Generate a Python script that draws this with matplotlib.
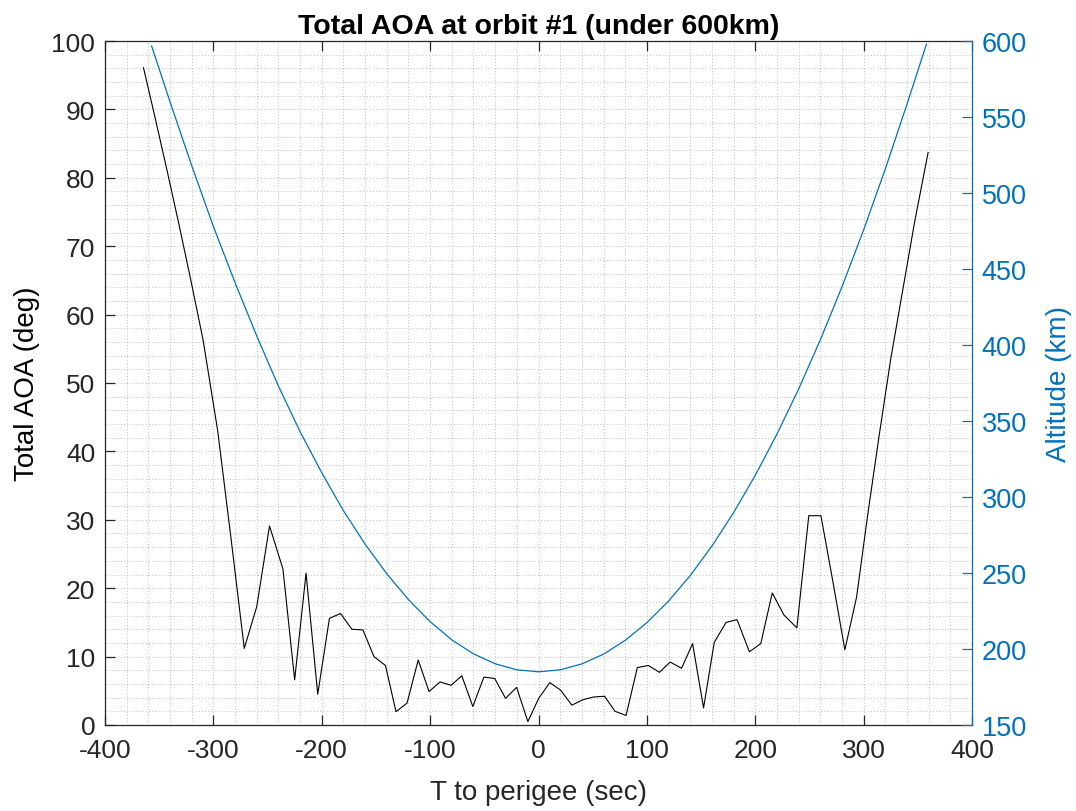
import numpy as np
import matplotlib
matplotlib.use("Agg")
import matplotlib.pyplot as plt
from matplotlib.ticker import MultipleLocator

plt.rcParams['font.family'] = ['Liberation Sans', 'DejaVu Sans']
plt.rcParams['axes.unicode_minus'] = False

# total angle of attack samples (time to perigee in sec, AOA in deg)
aoa_time = [-364.5, -353.5, -342.5, -331.5, -320.5, -309.5, -296.0, -283.5,
            -271.5, -260.0, -248.2, -235.8, -225.0, -214.5, -203.7, -192.9,
            -182.7, -172.2, -162.0, -151.8, -141.2, -131.5, -121.3, -111.0,
            -101.0, -90.8, -80.6, -70.8, -60.6, -50.4, -40.4, -30.4,
            -20.2, -9.8, 0.2, 10.4, 20.4, 30.8, 41.0, 51.0,
            61.0, 70.6, 80.8, 91.2, 101.4, 111.6, 121.5, 132.0,
            142.2, 152.3, 162.2, 173.1, 183.2, 194.6, 205.1, 215.7,
            226.4, 238.4, 249.4, 260.6, 271.6, 282.7, 293.5, 304.0,
            314.5, 325.0, 336.0, 347.0, 359.5]
aoa_deg = [96.1, 88.6, 80.9, 73.0, 64.8, 56.3, 43.0, 27.0,
           11.2, 17.3, 29.1, 22.8, 6.6, 22.2, 4.5, 15.6,
           16.3, 14.0, 13.9, 10.0, 8.7, 1.95, 3.2, 9.5,
           4.9, 6.3, 5.8, 7.2, 2.7, 7.0, 6.8, 3.9,
           5.5, 0.5, 3.9, 6.2, 5.1, 2.9, 3.7, 4.1,
           4.2, 2.0, 1.4, 8.4, 8.7, 7.7, 9.2, 8.3,
           11.9, 2.5, 12.1, 15.0, 15.4, 10.7, 11.9, 19.3,
           16.1, 14.2, 30.6, 30.6, 21.0, 11.0, 18.7, 31.0,
           42.5, 53.5, 63.5, 73.5, 83.7]

# altitude profile (km)
alt_time = [-357, -340, -320, -300, -280, -260, -240, -220, -200, -180,
            -160, -140, -120, -100, -80, -60, -40, -20, 0,
            20, 40, 60, 80, 100, 120, 140, 160, 180, 200,
            220, 240, 260, 280, 300, 320, 340, 358]
alt_km = [596.7, 560.0, 518.0, 478.0, 441.0, 406.0, 373.0, 343.0, 316.0, 291.0,
          269.0, 249.5, 232.5, 218.0, 206.0, 196.8, 190.3, 186.3, 185.0,
          186.3, 190.2, 196.6, 205.7, 217.3, 231.5, 248.3, 267.7, 289.7, 314.2,
          341.3, 371.0, 403.3, 438.2, 475.7, 515.8, 558.4, 598.0]

x_ticks = [-400, -300, -200, -100, 0, 100, 200, 300, 400]
aoa_ticks = list(range(0, 101, 10))
alt_ticks = list(range(150, 601, 50))

dark = '#262626'
blue = '#0072BD'

fig = plt.figure(figsize=(10.76, 8.12), dpi=100)
ax = fig.add_axes([105 / 1076, 1 - 726 / 812, 867 / 1076, 684 / 812])
ax2 = ax.twinx()

ax.plot(aoa_time, aoa_deg, color='black', linewidth=0.8)
ax2.plot(alt_time, alt_km, color=blue, linewidth=0.9)

ax.set_xlim(-400, 400)
ax.set_ylim(0, 100)
ax2.set_ylim(150, 600)
ax.set_xticks(x_ticks)
ax.set_yticks(aoa_ticks)
ax2.set_yticks(alt_ticks)
ax.xaxis.set_minor_locator(MultipleLocator(20))
ax.yaxis.set_minor_locator(MultipleLocator(2))

ax.grid(which='both', linestyle=(0, (1, 2.2)), color='#bdbdbd', linewidth=0.7)
ax.set_axisbelow(True)

ax.tick_params(axis='both', which='major', direction='in', length=7, width=0.9,
               colors=dark, labelsize=19, top=True, right=False)
ax.tick_params(axis='both', which='minor', length=0)
ax.tick_params(axis='x', pad=9.5)
ax.tick_params(axis='y', pad=7)
ax2.tick_params(axis='y', direction='in', length=7, width=0.9, colors=blue,
                labelsize=19.5, pad=7)

for side in ['left', 'bottom', 'top']:
    ax.spines[side].set_color(dark)
    ax.spines[side].set_linewidth(0.9)
ax.spines['right'].set_visible(False)
for side in ['left', 'bottom', 'top']:
    ax2.spines[side].set_visible(False)
ax2.spines['right'].set_color(blue)
ax2.spines['right'].set_linewidth(0.9)

ax.set_xlabel('T to perigee (sec)', fontsize=20, color=dark, labelpad=12)
ax.set_ylabel('Total AOA (deg)', fontsize=20, color='black', labelpad=8)
ax2.set_ylabel('Altitude (km)', fontsize=20, color=blue, labelpad=14)
ax.set_title('Total AOA at orbit #1 (under 600km)', fontsize=20.5,
             fontweight='bold', color='black', pad=6)

fig.savefig('out.png', dpi=100)
